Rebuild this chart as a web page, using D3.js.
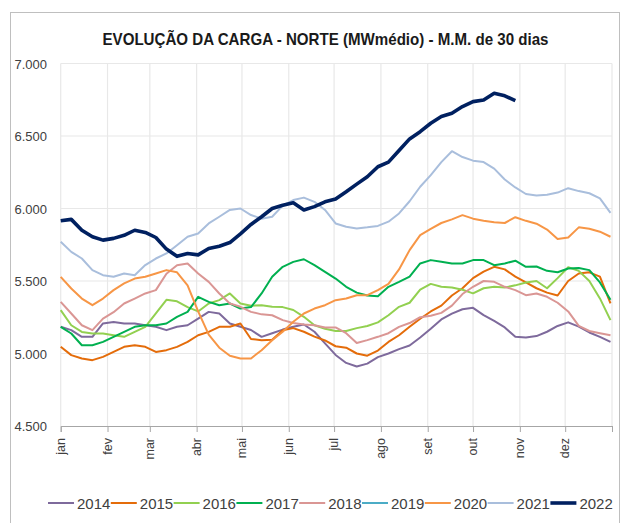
<!DOCTYPE html>
<html><head><meta charset="utf-8">
<script src="https://cdn.jsdelivr.net/npm/d3@7"></script>
<style>body{margin:0;background:#fff}svg{display:block}</style>
</head><body>
<svg id="c" width="622" height="523"></svg>
<script>
const monthLabels = ["jan","fev","mar","abr","mai","jun","jul","ago","set","out","nov","dez"];
const monthStarts = [0,31,59,90,120,151,181,212,243,273,304,334,365];
const yTicks = [4500,5000,5500,6000,6500,7000];
const days = [0,7,14,21,28,35,42,49,56,63,70,77,84,91,98,105,112,119,126,133,140,147,154,161,168,175,182,189,196,203,210,217,224,231,238,245,252,259,266,273,280,287,294,301,308,315,322,329,336,343,350,357,364];
const years = ["2014","2015","2016","2017","2018","2019","2020","2021","2022"];
const colors = ["#7E6A9C","#E46C0A","#92D050","#00B050","#DA9694","#4BACC6","#F79646","#A9BEDC","#002060"];

const s2014 = [5184,5161,5115,5115,5207,5218,5207,5207,5195,5184,5161,5184,5195,5241,
 5287,5276,5207,5184,5162,5115,5140,5165,5185,5200,5150,5070,4990,
 4935,4910,4930,4975,5000,5030,5055,5110,5170,5235,5275,5305,5315,
 5265,5225,5180,5115,5110,5120,5150,5190,5215,5185,5145,5115,5080];
const s2015 = [5046,4989,4966,4954,4977,5011,5046,5057,5046,5011,5023,5046,5080,5126,
 5149,5184,5184,5207,5100,5092,5095,5160,5175,5150,5116,5090,5050,
 5040,5000,4985,5020,5080,5126,5184,5240,5290,5330,5400,5450,5520,
 5565,5598,5580,5530,5490,5450,5420,5400,5500,5552,5560,5530,5345];
const s2016 = [5299,5195,5149,5138,5138,5126,5115,5149,5184,5276,5370,5360,5320,5290,
 5345,5368,5414,5345,5330,5333,5322,5320,5300,5253,5195,5170,5155,
 5155,5175,5190,5215,5264,5322,5350,5440,5480,5460,5455,5440,5415,
 5450,5460,5455,5470,5490,5500,5450,5520,5595,5570,5500,5380,5230];
const s2017 = [5184,5138,5057,5057,5080,5115,5149,5184,5195,5195,5207,5253,5287,5391,
 5356,5333,5345,5310,5320,5414,5529,5598,5632,5650,5609,5563,5517,
 5460,5420,5400,5395,5460,5494,5530,5621,5644,5632,5621,5621,5644,
 5644,5609,5621,5640,5598,5600,5570,5560,5586,5590,5575,5490,5370];
const s2018 = [5356,5276,5195,5161,5241,5285,5345,5379,5414,5437,5550,5609,5621,5552,
 5494,5414,5345,5322,5287,5270,5264,5230,5210,5200,5195,5180,5180,
 5140,5072,5092,5115,5140,5184,5210,5250,5260,5280,5330,5410,5460,
 5500,5494,5460,5437,5402,5414,5391,5350,5290,5190,5155,5140,5126];
const s2019 = [];
const s2020 = [5529,5448,5379,5333,5379,5437,5483,5517,5529,5552,5575,5560,5470,5290,
 5130,5040,4985,4966,4966,5023,5092,5150,5219,5276,5310,5333,5368,
 5379,5402,5402,5437,5480,5580,5713,5816,5860,5900,5925,5954,5930,
 5915,5905,5900,5940,5915,5895,5855,5790,5800,5870,5860,5840,5805];
const s2021 = [5771,5701,5655,5575,5540,5529,5552,5540,5610,5655,5690,5747,5805,5828,
 5897,5943,5990,6000,5955,5930,5943,6020,6058,6075,6046,5990,5897,
 5874,5862,5870,5880,5909,5966,6050,6150,6230,6320,6395,6355,6330,
 6320,6275,6200,6145,6100,6090,6095,6110,6140,6120,6105,6070,5970];
const s2022 = [5915,5925,5850,5805,5782,5794,5815,5850,5835,5800,5720,5670,5690,5680,
 5724,5740,5765,5825,5890,5943,6000,6023,6039,5990,6013,6046,6065,
 6115,6168,6219,6288,6320,6400,6480,6530,6588,6634,6657,6703,6737,
 6748,6795,6777,6744];
const seriesValues = [s2014,s2015,s2016,s2017,s2018,s2019,s2020,s2021,s2022];

const svg = d3.select("#c");
svg.append("rect").attr("x",10.5).attr("y",12.5).attr("width",609).attr("height",515)
  .attr("fill","#fff").attr("stroke","#bfbfbf").attr("stroke-width",1);

const x = d3.scaleLinear().domain([0,365]).range([60.7,612]);
const y = d3.scaleLinear().domain([4500,7000]).range([426,63.5]);

// gridlines
svg.append("g").selectAll("line").data(yTicks.filter(v=>v>4500)).join("line")
  .attr("x1",x(0)).attr("x2",x(365)).attr("y1",d=>y(d)).attr("y2",d=>y(d))
  .attr("stroke","#e8e8e8").attr("stroke-width",1.2);
svg.append("g").selectAll("line").data(monthStarts).join("line")
  .attr("x1",d=>x(d)).attr("x2",d=>x(d)).attr("y1",y(7000)).attr("y2",y(4500))
  .attr("stroke","#e8e8e8").attr("stroke-width",1.2);

// x axis
const xAxis = d3.axisBottom(x).tickValues(monthStarts).tickSize(6).tickFormat("");
const gx = svg.append("g").attr("transform",`translate(0,${y(4500)})`).call(xAxis);
gx.select(".domain").attr("stroke","#a6a6a6");
gx.selectAll(".tick line").attr("stroke","#a6a6a6");
svg.append("g").selectAll("text").data(monthLabels).join("text")
  .attr("transform",(d,i)=>`translate(${x(monthStarts[i])+4},${y(4500)+12}) rotate(-90)`)
  .attr("text-anchor","end")
  .attr("font-family","'Liberation Sans', Arial, sans-serif").attr("font-size",12.5)
  .attr("fill","#404040").text(d=>d);

// y axis labels
const yAxis = d3.axisLeft(y).tickValues(yTicks).tickSize(0)
  .tickFormat(d=>d3.format(",")(d).replace(",", ".").replace(/^(\d)(\d{3})$/,"$1.$2"));
const gy = svg.append("g").attr("transform",`translate(47,0)`).call(yAxis);
gy.select(".domain").remove();
gy.selectAll("text").attr("font-family","'Liberation Sans', Arial, sans-serif")
  .attr("font-size",13).attr("fill","#404040").attr("dx",0).attr("x",0).attr("dy","0.35em");

// lines
const line = d3.line().x((d,i)=>x(days[i])).y(d=>y(d)).defined(d=>d!=null);
seriesValues.forEach((vals,k)=>{
  if(!vals.length) return;
  svg.append("path").datum(vals).attr("d",line)
    .attr("fill","none").attr("stroke",colors[k])
    .attr("stroke-width",k===8?3.6:2).attr("stroke-linejoin","round");
});

// title
svg.append("text").attr("x",325.5).attr("y",45).attr("text-anchor","middle")
  .attr("font-family","'Liberation Sans Narrow','Arial Narrow','Liberation Sans',sans-serif")
  .attr("font-weight","bold").attr("font-size",17).attr("fill","#1a1a1a")
  .attr("textLength",446).attr("lengthAdjust","spacingAndGlyphs")
  .text("EVOLUÇÃO DA CARGA - NORTE (MWmédio) - M.M. de 30 dias");

// legend
const lg = svg.append("g");
years.forEach((yr,i)=>{
  const x0 = 48 + i*62.8;
  lg.append("line").attr("x1",x0).attr("x2",x0+26).attr("y1",503).attr("y2",503)
    .attr("stroke",colors[i]).attr("stroke-width",i===8?3.6:2);
  lg.append("text").attr("x",x0+29).attr("y",508.5)
    .attr("font-family","'Liberation Sans Narrow','Arial Narrow','Liberation Sans',sans-serif")
    .attr("font-size",15).attr("fill","#404040").text(yr);
});
</script>
</body></html>
